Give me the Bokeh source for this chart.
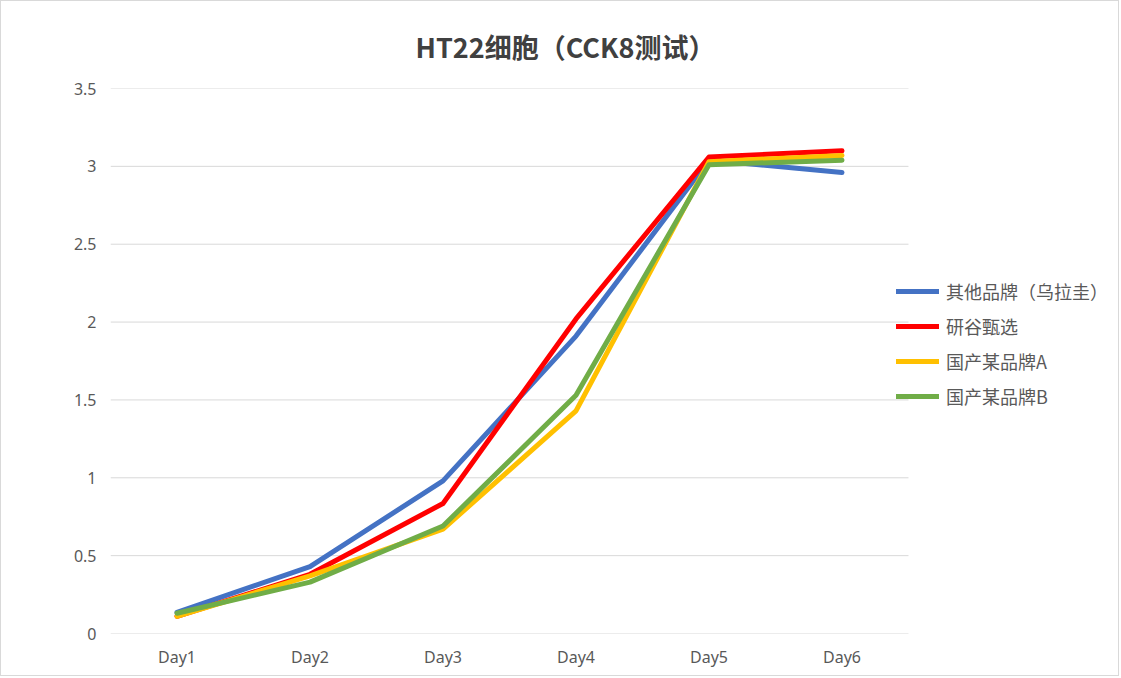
from bokeh.plotting import figure
from bokeh.models import Legend, LegendItem, Title, FixedTicker
from bokeh.embed import file_html
from bokeh.resources import INLINE

days = ["Day1", "Day2", "Day3", "Day4", "Day5", "Day6"]
s_names = ["其他品牌（乌拉圭）", "研谷甄选", "国产某品牌A", "国产某品牌B"]
s_blue = [0.135, 0.43, 0.98, 1.91, 3.04, 2.96]
s_red = [0.11, 0.38, 0.835, 2.02, 3.06, 3.10]
s_yellow = [0.11, 0.37, 0.67, 1.43, 3.03, 3.07]
s_green = [0.13, 0.33, 0.69, 1.53, 3.01, 3.04]
colors = ["#4472C4", "#FF0000", "#FFC000", "#70AD47"]
y_ticks = [0, 0.5, 1, 1.5, 2, 2.5, 3, 3.5]

xpos = list(range(1, len(days) + 1))

p = figure(x_range=(0.5, 8.094), y_range=(0, 3.5), width=1119, height=676,
           output_backend="svg", toolbar_location=None,
           min_border_left=109, min_border_right=0, min_border_top=87, min_border_bottom=44)
p.title = None
p.add_layout(Title(text="HT22细胞（CCK8测试）", align="left", text_font="Noto Sans CJK SC",
                   text_font_size="27px", text_font_style="bold", text_color="#404040",
                   offset=305, standoff=46), "above")

# horizontal gridlines limited to the category span
p.segment(x0=0.5, x1=len(days) + 0.5, y0=y_ticks, y1=y_ticks, line_color="#D9D9D9", line_width=1)

items = []
for name, ys, c in zip(s_names, [s_blue, s_red, s_yellow, s_green], colors):
    r = p.line(xpos, ys, line_color=c, line_width=5, line_cap="round", line_join="round")
    items.append(LegendItem(label=name, renderers=[r]))

legend = Legend(items=items, location=(786, 224), border_line_color=None, background_fill_alpha=0,
                label_text_font="Noto Sans CJK SC", label_text_font_size="18px", label_text_color="#595959",
                glyph_width=43, glyph_height=20, label_height=20, label_standoff=7, spacing=9,
                padding=0, margin=0)
p.add_layout(legend, "center")

p.xaxis.ticker = FixedTicker(ticks=xpos)
p.xaxis.major_label_overrides = {x: d for x, d in zip(xpos, days)}
p.xaxis.axis_line_color = None
p.yaxis.axis_line_color = None
p.xaxis.major_tick_line_color = None
p.yaxis.major_tick_line_color = None
p.xaxis.minor_tick_line_color = None
p.yaxis.minor_tick_line_color = None
p.yaxis.ticker = y_ticks
p.xaxis.major_label_text_font = "Noto Sans"
p.yaxis.major_label_text_font = "Noto Sans"
p.xaxis.major_label_text_font_size = "16px"
p.yaxis.major_label_text_font_size = "16px"
p.xaxis.major_label_text_color = "#595959"
p.yaxis.major_label_text_color = "#595959"
p.yaxis.major_label_standoff = 8
p.xaxis.major_label_standoff = 6
p.xgrid.grid_line_color = None
p.ygrid.grid_line_color = None
p.outline_line_color = None
p.styles = {"border": "1px solid #D9D9D9"}

open("out.html", "w").write(file_html(p, INLINE))
